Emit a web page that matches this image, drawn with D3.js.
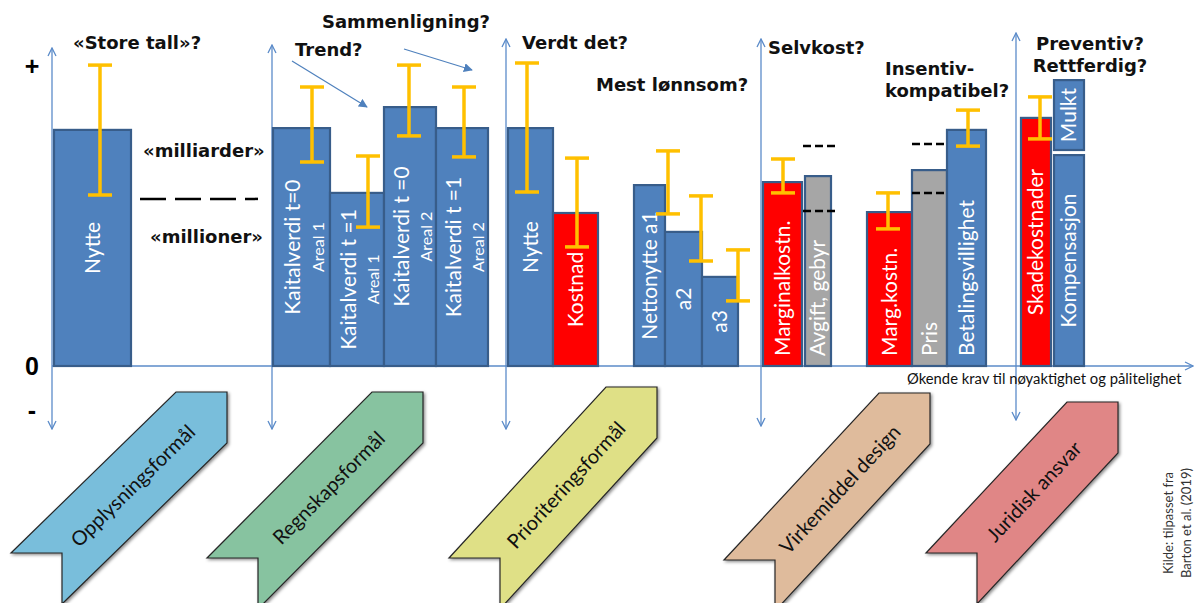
<!DOCTYPE html>
<html>
<head>
<meta charset="utf-8">
<script src="https://cdn.jsdelivr.net/npm/d3@7"></script>
<style>
    body { margin: 0; background: #ffffff; }
    #chart svg { display: block; }
</style>
</head>
<body>
<div id="chart"></div>
<script>
const width = 1196;
const height = 603;

// bars, left to right (value scale 0..100, "+" level ~ 100)
const barLabels = ["Nytte", "Kaitalverdi t=0", "Kaitalverdi t =1", "Kaitalverdi t =0", "Kaitalverdi t =1",
    "Nytte", "Kostnad", "Nettonytte a1", "a2", "a3",
    "Marginalkostn.", "Avgift, gebyr", "Marg.kostn.", "Pris", "Betalingsvillighet",
    "Skadekostnader", "Kompensasjon", "Mulkt"];
const barSubLabels = ["", "Areal 1", "Areal 1", "Areal 2", "Areal 2",
    "", "", "", "", "", "", "", "", "", "", "", "", ""];
const barGroups = [0, 1, 1, 1, 1, 2, 2, 2, 2, 2, 3, 3, 3, 3, 3, 4, 4, 4];
const barKinds = ["nytte", "nytte", "nytte", "nytte", "nytte",
    "nytte", "kostnad", "nytte", "nytte", "nytte",
    "kostnad", "pris", "kostnad", "pris", "nytte",
    "kostnad", "nytte", "nytte"];
const barStart = [54, 273, 330, 384, 436, 508, 553, 634, 665, 702, 763, 805, 867, 912, 947, 1021, 1054, 1054];
const barEnd = [131, 330, 384, 436, 488, 553, 598, 665, 702, 738, 802, 831, 912, 947, 986, 1051, 1084, 1084];
const barBase = [0, 0, 0, 0, 0, 0, 0, 0, 0, 0, 0, 0, 0, 0, 0, 0, 0, 72];
const barTop = [78.7, 79.3, 57.7, 86.3, 79.3, 79.3, 51, 60.3, 44.7, 29.7, 61.3, 63.3, 51.3, 65.3, 78.7, 82.7, 70.3, 95.3];

// uncertainty ranges
const errX = [100, 312, 368, 409, 464, 527, 577, 668, 701, 738, 783, null, 888, null, 968, 1040, null, null];
const errLow = [57, 68, 46.3, 76.7, 69.7, 58, 39.7, 50.7, 35, 21.7, 57.7, null, 45.7, null, 73.3, 75.7, null, null];
const errHigh = [100.3, 93, 70, 100.3, 93, 101, 69.3, 71.7, 56.7, 38.7, 69, null, 57.7, null, 85.3, 89.7, null, null];

// short "---" marks beside the price bars
const dashStart = [803, 803, 912, 912];
const dashEnd = [837, 837, 947, 947];
const dashValues = [73.3, 51.7, 74, 57.7];

// vertical axes per purpose
const axisX = [52, 272, 506, 761, 1016];
const axisTop = [106, 107, 109, 109, 111];
const axisBottom = [-21, -21, -21, -20, -18];

// purposes along the bottom
const purposes = ["Opplysningsformål", "Regnskapsformål", "Prioriteringsformål", "Virkemiddel design", "Juridisk ansvar"];
const purposeColors = ["#79bedb", "#87c3a0", "#dfe086", "#dfbb9c", "#e08686"];

const kindColors = { nytte: "#4f81bd", kostnad: "#ff0000", pris: "#a6a6a6" };

document.addEventListener("DOMContentLoaded", () => {
    drawChart();
});

function drawChart() {
    const svg = d3
        .select("#chart")
        .append("svg")
        .attr("width", width)
        .attr("height", height)
        .attr("viewBox", `0 0 ${width} ${height}`);

    const x = d3.scaleLinear().domain([0, width]).range([0, width]);
    const y = d3.scaleLinear().domain([0, 100]).range([366, 66]);

    const defs = svg.append("defs");
    defs.append("marker")
        .attr("id", "open-arrow")
        .attr("viewBox", "0 0 10 10")
        .attr("refX", 9)
        .attr("refY", 5)
        .attr("markerWidth", 10)
        .attr("markerHeight", 10)
        .attr("markerUnits", "userSpaceOnUse")
        .attr("orient", "auto-start-reverse")
        .append("path")
        .attr("d", "M1,1 L9,5 L1,9")
        .attr("fill", "none")
        .attr("stroke", "#5b8bc9")
        .attr("stroke-width", 1.3);
    defs.append("marker")
        .attr("id", "solid-arrow")
        .attr("viewBox", "0 0 10 10")
        .attr("refX", 9)
        .attr("refY", 5)
        .attr("markerWidth", 9)
        .attr("markerHeight", 9)
        .attr("markerUnits", "userSpaceOnUse")
        .attr("orient", "auto")
        .append("path")
        .attr("d", "M0,0 L10,5 L0,10 Z")
        .attr("fill", "#4f81bd");
    const shadow = defs.append("filter")
        .attr("id", "shadow")
        .attr("x", "-10%").attr("y", "-10%")
        .attr("width", "130%").attr("height", "130%");
    shadow.append("feDropShadow")
        .attr("dx", 1.5).attr("dy", 1.5)
        .attr("stdDeviation", 1.5)
        .attr("flood-color", "#000")
        .attr("flood-opacity", 0.45);

    // axes
    const axes = svg.append("g").attr("class", "axes")
        .attr("stroke", "#5b8bc9").attr("stroke-width", 1.3);
    axes.selectAll("line.v")
        .data(axisX)
        .join("line")
        .attr("class", "v")
        .attr("x1", (d) => x(d))
        .attr("x2", (d) => x(d))
        .attr("y1", (d, i) => y(axisBottom[i]))
        .attr("y2", (d, i) => y(axisTop[i]))
        .attr("marker-start", "url(#open-arrow)")
        .attr("marker-end", "url(#open-arrow)");
    axes.append("line")
        .attr("x1", x(axisX[0]))
        .attr("x2", x(1193))
        .attr("y1", y(0))
        .attr("y2", y(0))
        .attr("marker-end", "url(#open-arrow)");

    const signs = [["+", 100], ["0", 0], ["-", -14.5]];
    svg.append("g")
        .selectAll("text")
        .data(signs)
        .join("text")
        .attr("x", 32)
        .attr("y", (d) => y(d[1]))
        .attr("text-anchor", "middle")
        .attr("dominant-baseline", "central")
        .style("font-family", "'Liberation Sans', Arial, sans-serif")
        .style("font-weight", "bold")
        .style("font-size", "25px")
        .text((d) => d[0]);

    // bars
    const bars = barLabels.map((label, i) => ({
        label,
        sub: barSubLabels[i],
        group: barGroups[i],
        kind: barKinds[i],
        x0: barStart[i],
        x1: barEnd[i],
        base: barBase[i],
        top: barTop[i],
        ex: errX[i],
        lo: errLow[i],
        hi: errHigh[i],
    }));

    svg.append("g")
        .attr("class", "bars")
        .selectAll("rect")
        .data(bars)
        .join("rect")
        .attr("x", (d) => x(d.x0))
        .attr("y", (d) => y(d.top))
        .attr("width", (d) => x(d.x1) - x(d.x0))
        .attr("height", (d) => y(d.base) - y(d.top))
        .attr("fill", (d) => kindColors[d.kind])
        .attr("stroke", "#385d8a")
        .attr("stroke-width", 2.2);

    // labels inside bars (rotated)
    const labels = svg.append("g")
        .attr("class", "bar-labels")
        .selectAll("text")
        .data(bars)
        .join("text")
        .attr("transform", (d) => {
            const cx = x((d.x0 + d.x1) / 2);
            const cy = d.group === 3 ? y(d.base) - 10 : (y(d.base) + y(d.top)) / 2;
            return `translate(${cx},${cy}) rotate(-90)`;
        })
        .attr("text-anchor", (d) => (d.group === 3 ? "start" : "middle"))
        .attr("fill", "#ffffff")
        .style("font-family", "Lato, 'Open Sans', sans-serif")
        .style("font-size", "21px");
    labels.append("tspan")
        .attr("x", 0)
        .attr("dy", (d) => (d.sub ? "-0.05em" : "0.35em"))
        .text((d) => d.label);
    labels.filter((d) => d.sub)
        .append("tspan")
        .attr("x", 0)
        .attr("dy", "1.45em")
        .style("font-size", "16px")
        .text((d) => d.sub);

    // error bars
    const errs = svg.append("g")
        .attr("class", "errors")
        .attr("stroke", "#ffc000")
        .attr("stroke-width", 3.5)
        .selectAll("g")
        .data(bars.filter((d) => d.ex !== null))
        .join("g");
    errs.append("line")
        .attr("x1", (d) => x(d.ex))
        .attr("x2", (d) => x(d.ex))
        .attr("y1", (d) => y(d.lo))
        .attr("y2", (d) => y(d.hi));
    errs.selectAll("line.cap")
        .data((d) => [[d.ex, d.lo], [d.ex, d.hi]])
        .join("line")
        .attr("class", "cap")
        .attr("x1", (d) => x(d[0]) - 12)
        .attr("x2", (d) => x(d[0]) + 12)
        .attr("y1", (d) => y(d[1]))
        .attr("y2", (d) => y(d[1]));

    // "---" marks
    svg.append("g")
        .selectAll("line")
        .data(dashValues)
        .join("line")
        .attr("x1", (d, i) => x(dashStart[i]))
        .attr("x2", (d, i) => x(dashEnd[i]))
        .attr("y1", (d) => y(d))
        .attr("y2", (d) => y(d))
        .attr("stroke", "#000")
        .attr("stroke-width", 2.5)
        .attr("stroke-dasharray", "8,4");

    // long dashed split between "milliarder" and "millioner"
    svg.append("line")
        .attr("x1", x(140))
        .attr("x2", x(258))
        .attr("y1", y(55.7))
        .attr("y2", y(55.7))
        .attr("stroke", "#000")
        .attr("stroke-width", 2.5)
        .attr("stroke-dasharray", "26,9");

    // question annotations
    const notes = [
        { text: "«Store tall»?", x: 73, y: 49, anchor: "start" },
        { text: "«milliarder»", x: 143, y: 157, anchor: "start" },
        { text: "«millioner»", x: 150, y: 243, anchor: "start" },
        { text: "Sammenligning?", x: 322, y: 28, anchor: "start" },
        { text: "Trend?", x: 295, y: 56, anchor: "start" },
        { text: "Verdt det?", x: 522, y: 49, anchor: "start" },
        { text: "Mest lønnsom?", x: 596, y: 91, anchor: "start" },
        { text: "Selvkost?", x: 768, y: 54, anchor: "start" },
        { text: "Insentiv-", x: 885, y: 75, anchor: "start" },
        { text: "kompatibel?", x: 885, y: 97, anchor: "start" },
        { text: "Preventiv?", x: 1090, y: 50, anchor: "middle" },
        { text: "Rettferdig?", x: 1090, y: 72, anchor: "middle" },
    ];
    svg.append("g")
        .attr("class", "notes")
        .selectAll("text")
        .data(notes)
        .join("text")
        .attr("x", (d) => d.x)
        .attr("y", (d) => d.y)
        .attr("text-anchor", (d) => d.anchor)
        .style("font-family", "'DejaVu Sans', sans-serif")
        .style("font-weight", "bold")
        .style("font-size", "18px")
        .style("fill", "#111")
        .text((d) => d.text);

    // pointer arrows for trend / comparison
    const pointers = [[292, 61, 367, 107], [404, 49, 472, 70]];
    svg.append("g")
        .selectAll("line")
        .data(pointers)
        .join("line")
        .attr("x1", (d) => d[0])
        .attr("y1", (d) => d[1])
        .attr("x2", (d) => d[2])
        .attr("y2", (d) => d[3])
        .attr("stroke", "#4f81bd")
        .attr("stroke-width", 1.2)
        .attr("marker-end", "url(#solid-arrow)");

    svg.append("text")
        .attr("x", 907)
        .attr("y", 384)
        .style("font-family", "Lato, sans-serif")
        .style("font-size", "14.8px")
        .style("fill", "#111")
        .text("Økende krav til nøyaktighet og pålitelighet");

    // purpose chevrons (rotated ribbons)
    const w = 51;
    const chevronLayout = [
        { hx: 227, hy: 392, tx: 62, ty: 553 },
        { hx: 423, hy: 392, tx: 258, ty: 558 },
        { hx: 657, hy: 387, tx: 500, ty: 558 },
        { hx: 930, hy: 393, tx: 775, ty: 560 },
        { hx: 1118, hy: 402, tx: 977, ty: 553 },
    ];
    const chevrons = purposes.map((name, i) => ({ name, color: purposeColors[i], ...chevronLayout[i] }));

    const chev = svg.append("g")
        .attr("class", "chevrons")
        .selectAll("g")
        .data(chevrons)
        .join("g");
    chev.append("path")
        .attr("d", (d) => d3.line()([
            [d.hx, d.hy],
            [d.hx, d.hy + w],
            [d.tx, d.ty + w],
            [d.tx, d.ty],
            [d.tx - w, d.ty],
            [d.hx - w, d.hy],
        ]) + "Z")
        .attr("fill", (d) => d.color)
        .attr("stroke", "#262626")
        .attr("stroke-width", 1.2)
        .attr("filter", "url(#shadow)");
    chev.append("text")
        .attr("transform", (d) => {
            const h = [d.hx - w / 2, d.hy + w / 2];
            const t = [d.tx - w / 2, d.ty + w / 2];
            const f = 0.58;
            const cx = t[0] + (h[0] - t[0]) * f;
            const cy = t[1] + (h[1] - t[1]) * f;
            const ang = (Math.atan2(h[1] - t[1], h[0] - t[0]) * 180) / Math.PI;
            return `translate(${cx},${cy}) rotate(${ang})`;
        })
        .attr("text-anchor", "middle")
        .attr("dominant-baseline", "central")
        .style("font-family", "Lato, sans-serif")
        .style("font-size", "20px")
        .style("fill", "#111")
        .text((d) => d.name);

    // source note
    const source = svg.append("text")
        .attr("transform", "translate(1173,523) rotate(-90)")
        .attr("text-anchor", "middle")
        .style("font-family", "Lato, sans-serif")
        .style("font-size", "13px")
        .style("fill", "#333");
    source.append("tspan").attr("x", 0).attr("dy", 0).text("Kilde: tilpasset fra");
    source.append("tspan").attr("x", 0).attr("dy", "1.35em").text("Barton et al. (2019)");
}
</script>
</body>
</html>
